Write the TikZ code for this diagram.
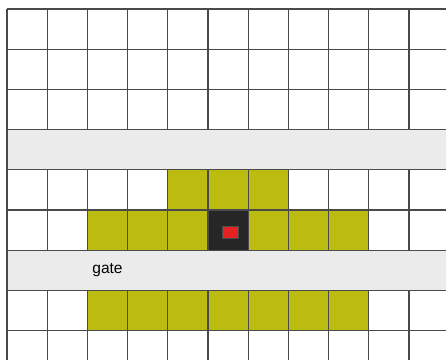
\documentclass[tikz,border=0pt]{standalone}
\usepackage{fontspec}
\setsansfont{Liberation Sans}
\usepackage{xcolor}
\usepackage{tikz}
\definecolor{gridline}{HTML}{4A4A4A}
\definecolor{band}{HTML}{EBEBEB}
\definecolor{olive}{HTML}{BBBB10}
\definecolor{core}{HTML}{262626}
\definecolor{spot}{HTML}{E52222}
\begin{document}
\begin{tikzpicture}[x=1cm,y=-1cm,
 gridpen/.style={draw=gridline,line width=0.8pt},
 bandfill/.style={fill=band},
 activefill/.style={fill=olive},
 label/.style={font=\sffamily\fontsize{11}{13}\selectfont,inner sep=0pt}
]
\clip (-0.174,-0.224) rectangle (10.921,8.731);
\fill[white] (-0.174,-0.224) rectangle (10.921,8.731);
% gate bands
\fill[bandfill] (0,3) rectangle (11.5,4);
\fill[bandfill] (0,6) rectangle (11.5,7);
% active cells
\fill[activefill] (4,4) rectangle (7,5);
\fill[activefill] (2,5) rectangle (9,6);
\fill[activefill] (2,7) rectangle (9,8);
\fill[core] (5,5) rectangle (6,6);
\filldraw[fill=spot,draw=black!70,line width=0.5pt] (5.35,5.4) rectangle (5.75,5.7);
% grid
\foreach \r in {0,...,8}
  \draw[gridpen] (0,\r) -- (11.5,\r);
\foreach \c in {0,...,11} {
  \draw[gridpen] (\c,0) -- (\c,3);
  \draw[gridpen] (\c,4) -- (\c,6);
  \draw[gridpen] (\c,7) -- (\c,9);
}
\draw[gridpen] (0,0) -- (0,9);
\node[label] (gate) at (2.5,6.5) {gate};
\end{tikzpicture}
\end{document}
